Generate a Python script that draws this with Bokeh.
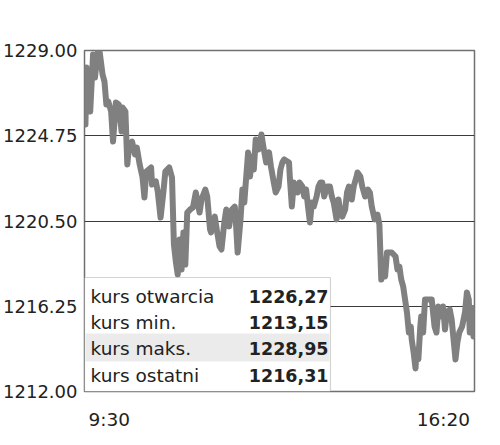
from bokeh.plotting import figure
from bokeh.layouts import column
from bokeh.models import ColumnDataSource, FixedTicker, BoxAnnotation, Label, Range1d, NumeralTickFormatter
from bokeh.core.properties import value
from bokeh.embed import file_html
from bokeh.resources import INLINE

# minutes since 9:30
times = [0, 1, 2, 4, 6, 9, 11, 14, 16, 19, 21, 23, 25, 28, 30, 33, 36, 39, 40, 43,
         45, 47, 50, 53, 55, 58, 61, 63, 65, 70, 71, 75, 77, 80, 83, 85, 89, 92, 94, 96,
         98, 100, 102, 104, 106, 108, 111, 114, 117, 121, 123, 127, 129, 132, 133, 137, 139, 142, 144, 147,
         149, 152, 155, 158, 159, 161, 164, 166, 168, 169, 172, 174, 176, 178, 180, 183, 186, 188, 191, 194,
         196, 199, 201, 204, 206, 208, 210, 215, 216, 218, 220, 224, 226, 229, 231, 233, 235, 237, 239, 241,
         244, 246, 248, 250, 252, 255, 258, 260, 262, 265, 267, 269, 271, 274, 276, 278, 281, 283, 286, 287,
         290, 292, 295, 298, 300, 302, 305, 308, 310, 312, 313, 316, 318, 323, 327, 329, 331, 333, 335, 337,
         339, 341, 343, 344, 346, 348, 349, 351, 353, 354, 356, 358, 362, 365, 368, 370, 372, 374, 377, 379,
         381, 384, 386, 389, 390, 392, 394, 397, 400, 402, 404, 405, 407, 409, 410]
prices = [1226.27, 1225.31, 1228.15, 1226.56, 1225.96, 1228.80, 1227.65, 1228.95, 1228.90, 1227.80,
          1227.45, 1226.31, 1226.46, 1225.96, 1224.46, 1226.41, 1226.31, 1224.96, 1226.16, 1225.96,
          1223.32, 1224.31, 1224.46, 1223.82, 1224.16, 1223.32, 1222.67, 1221.67, 1222.97, 1223.17,
          1222.32, 1222.47, 1221.97, 1220.67, 1221.97, 1222.97, 1223.17, 1222.67, 1219.33, 1218.48,
          1217.83, 1219.58, 1218.08, 1219.93, 1218.33, 1220.92, 1221.07, 1221.17, 1221.92, 1220.92,
          1221.57, 1222.07, 1221.72, 1220.08, 1219.93, 1220.72, 1220.08, 1219.23, 1219.08, 1220.43,
          1221.07, 1220.23, 1221.07, 1221.22, 1220.58, 1218.93, 1220.58, 1222.07, 1221.42, 1222.07,
          1223.92, 1222.72, 1223.72, 1223.07, 1224.56, 1224.07, 1224.81, 1224.21, 1223.42, 1223.92,
          1223.22, 1222.42, 1221.92, 1222.22, 1223.07, 1223.42, 1223.57, 1223.42, 1222.57, 1221.22,
          1222.42, 1221.92, 1222.42, 1222.22, 1221.72, 1222.07, 1221.22, 1220.43, 1221.42, 1221.22,
          1221.72, 1222.22, 1222.42, 1222.42, 1221.72, 1222.22, 1222.22, 1221.72, 1221.42, 1220.58,
          1221.57, 1220.92, 1220.72, 1221.07, 1221.92, 1222.22, 1221.57, 1222.22, 1222.72, 1222.92,
          1222.72, 1222.22, 1221.72, 1222.07, 1221.92, 1221.22, 1220.58, 1220.82, 1220.33, 1217.58,
          1218.43, 1217.73, 1218.93, 1218.93, 1218.73, 1218.08, 1218.23, 1217.58, 1217.24, 1216.59,
          1215.94, 1214.94, 1215.24, 1214.59, 1213.95, 1213.15, 1214.09, 1213.60, 1215.24, 1215.74,
          1214.94, 1216.59, 1216.59, 1216.59, 1215.24, 1214.94, 1216.24, 1215.74, 1216.24, 1215.09,
          1215.94, 1216.09, 1215.59, 1214.09, 1213.60, 1214.44, 1214.94, 1215.24, 1215.94, 1216.94,
          1216.59, 1214.94, 1216.09, 1214.74, 1216.31]

y_ticks = [1212.00, 1216.25, 1220.50, 1224.75, 1229.00]
x_tick_labels = ["9:30", "16:20"]
x_extent = [0, 410]

legend_names = ["kurs otwarcia", "kurs min.", "kurs maks.", "kurs ostatni"]
legend_values = ["1226,27", "1213,15", "1228,95", "1216,31"]

FONT = "DejaVu Sans"
TXT = "#222222"
FS = "18.5px"

# layout in pixels
LEFT, RIGHT, TOP, BOTTOM = 76, 10, 50, 12
FRAME_W, FRAME_H = 398, 341
BOX_W, BOX_H = 251, 114
ROW_Y = [95, 69, 43, 16]      # row centres above the frame bottom
BAND = (30, 58)               # highlighted row
W = LEFT + FRAME_W + RIGHT

p = figure(width=W, height=TOP + FRAME_H + BOTTOM, output_backend="svg", toolbar_location=None,
           x_range=Range1d(x_extent[0], x_extent[1]), y_range=Range1d(y_ticks[0], y_ticks[-1]),
           min_border_left=LEFT, min_border_right=RIGHT, min_border_top=TOP, min_border_bottom=BOTTOM)

p.xaxis.visible = False
p.xgrid.visible = False
p.yaxis.ticker = FixedTicker(ticks=y_ticks)
p.yaxis.formatter = NumeralTickFormatter(format="0.00")
p.yaxis.axis_line_color = None
p.yaxis.major_tick_line_color = None
p.yaxis.minor_tick_line_color = None
p.yaxis.major_tick_out = 0
p.yaxis.major_tick_in = 0
p.yaxis.minor_tick_out = 0
p.yaxis.major_label_standoff = 7
p.yaxis.major_label_text_font = FONT
p.yaxis.major_label_text_font_size = "18px"
p.yaxis.major_label_text_color = TXT
p.ygrid.grid_line_color = "#3a3a3a"
p.ygrid.grid_line_width = 1
p.outline_line_color = "#707070"
p.outline_line_width = 1.5
p.background_fill_color = "white"
p.border_fill_color = "white"

src = ColumnDataSource(dict(t=times, price=prices))
p.line(x="t", y="price", source=src, line_color="#808080", line_width=6, line_join="round")

xspan = x_extent[1] - x_extent[0]
yspan = y_ticks[-1] - y_ticks[0]
def px_x(px):
    return x_extent[0] + px * xspan / FRAME_W
def px_y(px):
    return y_ticks[0] + px * yspan / FRAME_H

p.add_layout(BoxAnnotation(left=x_extent[0], right=px_x(BOX_W), bottom=y_ticks[0], top=px_y(BOX_H),
                           fill_color="white", fill_alpha=1, line_color="#707070", line_width=1.2))
p.add_layout(BoxAnnotation(left=px_x(1), right=px_x(BOX_W - 1), bottom=px_y(BAND[0]), top=px_y(BAND[1]),
                           fill_color="#ebebeb", fill_alpha=1, line_color=None))

for name, val, ry in zip(legend_names, legend_values, ROW_Y):
    p.add_layout(Label(x=x_extent[0], y=y_ticks[0], x_offset=6, y_offset=ry, text=name,
                       text_align="left", text_baseline="middle", text_font=FONT,
                       text_font_size=FS, text_color=TXT))
    p.add_layout(Label(x=x_extent[0], y=y_ticks[0], x_offset=244, y_offset=ry, text=val,
                       text_align="right", text_baseline="middle", text_font=FONT,
                       text_font_size="17.5px", text_font_style="bold", text_color=TXT))

# strip below the plot carrying the time labels
STRIP_H = 36
p2 = figure(width=W, height=STRIP_H, output_backend="svg", toolbar_location=None,
            x_range=Range1d(x_extent[0], px_x(FRAME_W + RIGHT)), y_range=Range1d(0, STRIP_H),
            min_border_left=LEFT, min_border_right=0, min_border_top=0, min_border_bottom=0)
p2.axis.visible = False
p2.grid.visible = False
p2.outline_line_color = None
p2.background_fill_color = "white"
p2.border_fill_color = "white"
lab_y = STRIP_H - (28 - BOTTOM)
p2.text(x=[x_extent[0]], y=[lab_y], text=[x_tick_labels[0]], x_offset=4, text_align="left",
        text_baseline="middle", text_font=value(FONT), text_font_size=FS, text_color=TXT)
p2.text(x=[x_extent[1]], y=[lab_y], text=[x_tick_labels[1]], x_offset=5, text_align="right",
        text_baseline="middle", text_font=value(FONT), text_font_size=FS, text_color=TXT)

layout = column(p, p2, spacing=0)
open("out.html", "w").write(file_html(layout, INLINE))
